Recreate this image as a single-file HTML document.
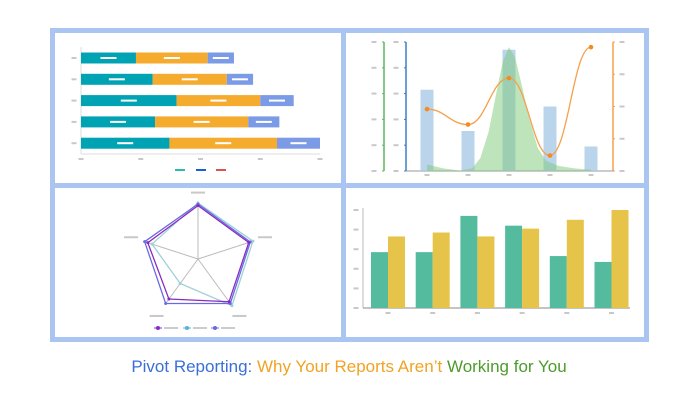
<!DOCTYPE html>
<html><head><meta charset="utf-8"><style>
body{margin:0;background:#fff;width:698px;height:400px;overflow:hidden;font-family:"Liberation Sans",sans-serif}
</style></head><body>
<svg id="s" width="698" height="400" viewBox="0 0 698 400" xmlns="http://www.w3.org/2000/svg">
<rect x="50" y="28" width="599" height="314" fill="#aac5f2"/>
<rect x="55" y="33" width="286" height="150" fill="#fff"/>
<rect x="346" y="33" width="298" height="150" fill="#fff"/>
<rect x="55" y="188" width="286" height="149" fill="#fff"/>
<rect x="346" y="188" width="298" height="149" fill="#fff"/>
<g id="g1"></g><g id="g2"></g><g id="g3"></g><g id="g4"></g>
<text x="349" y="372" text-anchor="middle" font-size="17"><tspan fill="#3a6fd8">Pivot Reporting:</tspan> <tspan fill="#f0a324">Why Your Reports Aren’t</tspan> <tspan fill="#4d9b2c">Working for You</tspan></text>
</svg>
<script>
// Stacked bar data
const sbRows=['r1','r2','r3','r4','r5'];
const sbTeal=[23,30,40,31,37];
const sbOrange=[30,31,35,39,45];
const sbBlue=[11,11,14,13,18];
// Combo data
const cbCats=['c1','c2','c3','c4','c5'];
const cbBars=[63,31,94,50,19];
const cbLine=[48,36,72,12,96];
const bellX=[0,0.4,0.8,1.1,1.3,1.5,1.7,1.85,2.0,2.15,2.3,2.5,2.7,2.9,3.2,3.6,4.0];
const bellY=[5,2,0.3,2,10,30,62,85,96,88,68,40,18,8,4,2,1];
// Radar data
const rdAxes=['a1','a2','a3','a4','a5'];
const rdPurple=[0.97,0.97,0.96,0.9,0.96];
const rdCyan=[1.02,1.05,1.05,0.55,0.88];
const rdBlue=[1.0,1.0,1.0,1.0,1.02];
// Grouped bar data
const gbCats=['g1','g2','g3','g4','g5','g6'];
const gbTeal=[57,57,94,84,53,47];
const gbYellow=[73,77,73,81,90,100];
const NS='http://www.w3.org/2000/svg';
function mk(p,t,a){const e=document.createElementNS(NS,t);for(const k in a)e.setAttribute(k,a[k]);p.appendChild(e);return e;}
function lbl(p,x,y,w){const e=mk(p,'rect',{x:x-w/2,y:y-1,width:w,height:2,fill:'#c8c8c8'});

return e;}
// Chart 1
(function(){const g=document.getElementById('g1');const x0=81,x1=320;const sx=v=>x0+v*(x1-x0)/100;
const rowsY=i=>58+i*21.3;
let e=mk(g,'line',{x1:x0,y1:47,x2:x0,y2:154,stroke:'#ddd','stroke-width':1});

e=mk(g,'line',{x1:x0,y1:154,x2:x1,y2:154,stroke:'#ddd','stroke-width':1});

for(let t=0;t<=4;t++)lbl(g,sx(t*25),159,5);
sbRows.forEach((r,i)=>{const y=rowsY(i);lbl(g,74,y,5);let acc=0;
[[sbTeal,'#00a3b4'],[sbOrange,'#f5ab2e'],[sbBlue,'#7b9be6']].forEach(([arr,c],k)=>{
const b=mk(g,'rect',{x:sx(acc),y:y-5.5,width:sx(acc+arr[i])-sx(acc),height:11,fill:c});

mk(g,'rect',{x:(sx(acc)+sx(acc+arr[i]))/2-8,y:y-1,width:16,height:2,fill:'#fff'});acc+=arr[i];});});
[['#2bbcb0',180],['#1a5fd0',201],['#d9534f',221]].forEach(([c,x])=>{const l=mk(g,'rect',{x:x-5,y:169,width:10,height:2,fill:c});
});})();
// Chart 2
(function(){const g=document.getElementById('g2');const yt=42,yb=171;const sy=v=>yb-v*(yb-yt)/100;const sx=i=>427+i*41;
[[384,'#5cb85c'],[406,'#3a7fc4'],[613,'#f5a04a']].forEach(([x,c])=>{const a=mk(g,'line',{x1:x,y1:yt,x2:x,y2:yb,stroke:c,'stroke-width':1.5});

const n=x==613?5:6;for(let t=0;t<n;t++){const y=yt+t*(yb-yt)/(n-1);mk(g,'line',{x1:x==613?x:x-2,y1:y,x2:x==613?x+2:x,y2:y,stroke:c});lbl(g,x==613?x+9:x-10,y,5);}});
const xa=mk(g,'line',{x1:406,y1:yb,x2:613,y2:yb,stroke:'#999'});
cbCats.forEach((c,i)=>{lbl(g,sx(i),175,5);const b=mk(g,'rect',{x:sx(i)-6.5,y:sy(cbBars[i]),width:13,height:yb-sy(cbBars[i]),fill:'#a9c9e6',opacity:0.8});
});
let d='M'+sx(bellX[0])+','+yb;bellX.forEach((v,i)=>d+=' L'+sx(v)+','+sy(bellY[i]));d+=' L'+sx(bellX[bellX.length-1])+','+yb+' Z';
const ar=mk(g,'path',{d:d,fill:'#7ec97a',opacity:0.5});
let ld='';cbLine.forEach((v,i)=>{const x=sx(i),y=sy(v);if(i==0)ld='M'+x+','+y;else{const px=sx(i-1),py=sy(cbLine[i-1]);ld+=` C${px+18},${py} ${x-18},${y} ${x},${y}`;}});
const ln=mk(g,'path',{d:ld,fill:'none',stroke:'#f5a04a','stroke-width':1.3});
cbLine.forEach((v,i)=>{const p=mk(g,'circle',{cx:sx(i),cy:sy(v),r:2.3,fill:'#f58a1f'});});})();
// Chart 3
(function(){const g=document.getElementById('g3');const cx=198,cy=259,R=55;
const pt=(i,v)=>{const a=-Math.PI/2+i*2*Math.PI/5;return [cx+R*v*Math.cos(a),cy+R*v*Math.sin(a)];};
rdAxes.forEach((a,i)=>{const p=pt(i,1);const s=mk(g,'line',{x1:cx,y1:cy,x2:p[0],y2:p[1],stroke:'#bbb'});
const q=pt(i,1.28);lbl(g,q[0],q[1]+(i==0?4:0),14);});
[[rdCyan,'#9fd0d8'],[rdBlue,'#6a6ae0'],[rdPurple,'#8a2bc0']].forEach(([arr,c])=>{const pts=arr.map((v,i)=>pt(i,v).join(',')).join(' ');
const p=mk(g,'polygon',{points:pts,fill:'none',stroke:c,'stroke-width':1.3});
arr.forEach((v,i)=>{const q=pt(i,v);mk(g,'circle',{cx:q[0],cy:q[1],r:1.5,fill:c});});});
[['#8a2bc0',159],['#5bb0d8',188],['#6a6ae0',216]].forEach(([c,x])=>{mk(g,'line',{x1:x-5,y1:328,x2:x+3,y2:328,stroke:c});const m=mk(g,'circle',{cx:x-1,cy:328,r:2,fill:c});
mk(g,'rect',{x:x+5,y:327,width:14,height:2,fill:'#ccc'});});})();
// Chart 4
(function(){const g=document.getElementById('g4');const yt=210,yb=308;const sy=v=>yb-v*(yb-yt)/100;const gx=i=>371+i*44.7;
const ya=mk(g,'line',{x1:363,y1:yt-2,x2:363,y2:yb,stroke:'#bbb'});
const xa=mk(g,'line',{x1:363,y1:yb,x2:630,y2:yb,stroke:'#888'});
for(let t=0;t<=5;t++)lbl(g,356,yb-t*(yb-yt)/5,5);
gbCats.forEach((c,i)=>{lbl(g,gx(i)+17,313,5);
const a=mk(g,'rect',{x:gx(i),y:sy(gbTeal[i]),width:17,height:yb-sy(gbTeal[i]),fill:'#55bb9f'});
const b=mk(g,'rect',{x:gx(i)+17,y:sy(gbYellow[i]),width:17,height:yb-sy(gbYellow[i]),fill:'#e6c349'});});})();
</script>
</body></html>
